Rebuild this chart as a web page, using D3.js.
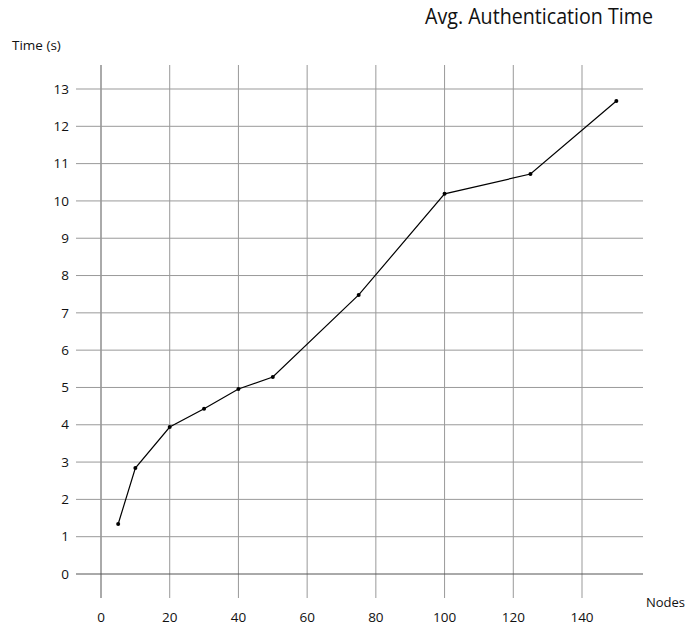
<!DOCTYPE html>
<html><head><meta charset="utf-8">
<script src="https://cdn.jsdelivr.net/npm/d3@7"></script>
<style>body{margin:0;background:#fff}svg{display:block}text{font-family:"Open Sans",sans-serif;fill:#111}</style>
</head><body>
<svg id="c" width="687" height="628"></svg>
<script>
const nodes = [5, 10, 20, 30, 40, 50, 75, 100, 125, 150];
const times = [1.34, 2.84, 3.94, 4.43, 4.96, 5.28, 7.48, 10.19, 10.72, 12.68];
const xTicks = [0, 20, 40, 60, 80, 100, 120, 140];
const yTicks = [0, 1, 2, 3, 4, 5, 6, 7, 8, 9, 10, 11, 12, 13];
const title = "Avg. Authentication Time";
const yTitle = "Time (s)";
const xTitle = "Nodes";

const svg = d3.select("#c");
const x = d3.scaleLinear().domain([0, 140]).range([101, 582]);
const y = d3.scaleLinear().domain([0, 13]).range([574, 89]);
const gridLeft = 76, gridRight = 643, gridTop = 65, gridBottom = 598;

// vertical grid
svg.append("g").selectAll("line").data(xTicks).join("line")
  .attr("x1", d => x(d)).attr("x2", d => x(d))
  .attr("y1", gridTop).attr("y2", gridBottom)
  .attr("stroke", d => d === 0 ? "#aaa" : "#999")
  .attr("stroke-width", d => d === 0 ? 2 : 1);
// horizontal grid
svg.append("g").selectAll("line").data(yTicks).join("line")
  .attr("x1", gridLeft).attr("x2", gridRight)
  .attr("y1", d => y(d)).attr("y2", d => y(d))
  .attr("stroke", d => d === 0 ? "#555" : "#999")
  .attr("stroke-width", 1);

// tick labels
svg.append("g").selectAll("text").data(yTicks).join("text")
  .attr("x", 69).attr("y", d => y(d)).attr("dy", "0.35em")
  .attr("text-anchor", "end").attr("font-size", 13.5).text(d => d);
svg.append("g").selectAll("text").data(xTicks).join("text")
  .attr("x", d => x(d)).attr("y", 617).attr("dy", "0.35em")
  .attr("text-anchor", "middle").attr("font-size", 13.5).text(d => d);

// line
const data = nodes.map((n, i) => [n, times[i]]);
svg.append("path").datum(data)
  .attr("fill", "none").attr("stroke", "#000").attr("stroke-width", 1.2)
  .attr("d", d3.line().x(d => x(d[0])).y(d => y(d[1])));
svg.append("g").selectAll("circle").data(data).join("circle")
  .attr("cx", d => x(d[0])).attr("cy", d => y(d[1])).attr("r", 2).attr("fill", "#000");

// titles
svg.append("text").attr("x", 425).attr("y", 24)
  .attr("font-size", 22).attr("textLength", 228).attr("lengthAdjust", "spacingAndGlyphs").text(title);
svg.append("text").attr("x", 12).attr("y", 50).attr("font-size", 13.5).text(yTitle);
svg.append("text").attr("x", 646).attr("y", 607).attr("font-size", 13).text(xTitle);
</script>
</body></html>
